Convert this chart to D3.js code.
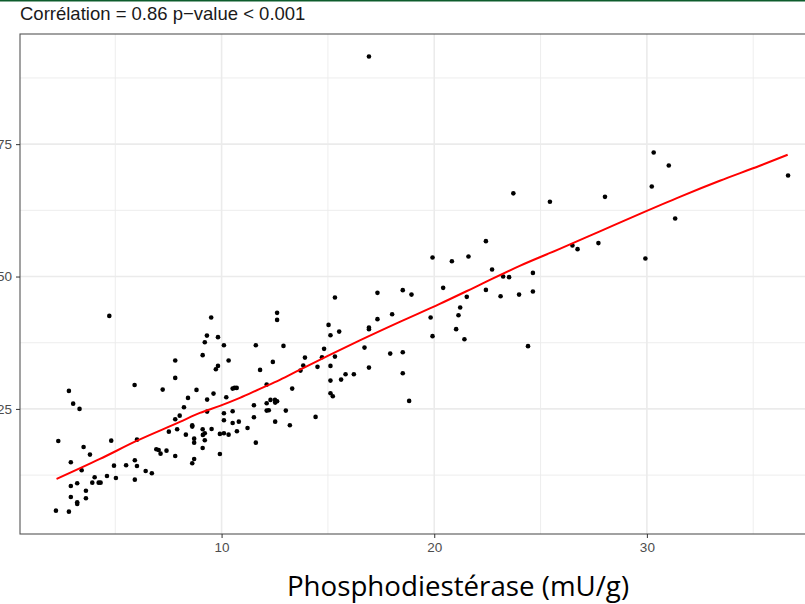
<!DOCTYPE html>
<html>
<head>
<meta charset="utf-8">
<script src="https://cdn.jsdelivr.net/npm/d3@7"></script>
<style>
  body { margin: 0; background: #fff; }
  svg { display: block; }
</style>
</head>
<body>
<div id="chart"></div>
<script>
// phosphodiesterase (mU/g) for each sample
var phospho = [
    4.72, 7.82, 7.82, 5.91, 7.23, 8.82, 2.82, 8.42, 3.02, 8.23, 3.32, 8.03, 7.82, 8.62,
    8.62, 7.91, 7.52, 8.32, 8.71, 8.71, 2.32, 4.81, 6.02, 3.51, 3.81, 6.93, 7.04, 7.13,
    7.41, 7.82, 2.91, 5.92, 6.02, 4.94, 5.51, 8.71, 8.62, 3.42, 6.43, 6.72, 4.03, 4.61,
    5.03, 5.92, 3.92, 4.22, 4.31, 3.21, 2.91, 3.62, 2.91, 3.62, 3.21, 3.21, 2.21, 2.82,
    15.33, 12.61, 12.61, 9.51, 15.03, 15.53, 15.12, 9.31, 9.83, 9.21, 10.11, 11.61, 12.91,
    14.82, 9.11, 13.92, 14.72, 15.33, 10.33, 12.41, 13.84, 9.83, 9.73, 15.12, 14.51, 11.81,
    13.71, 15.83, 16.22, 15.62, 15.12, 12.12, 10.52, 10.61, 10.71, 13.32, 15.12, 15.23,
    9.62, 10.22, 9.32, 12.30, 12.51, 12.61, 12.52, 12.12, 11.52, 9.32, 10.52, 10.11, 12.12,
    12.22, 13.02, 11.52, 14.42, 10.11, 10.52, 10.81, 12.52, 13.21, 9.11, 9.53, 11.22, 10.72,
    9.21, 9.92, 10.11, 10.33, 9.12, 9.21, 9.11, 11.61, 9.92,
    22.43, 19.92, 20.83, 21.61, 22.72, 23.24, 23.52, 20.42, 22.43, 23.12, 23.99, 17.33,
    18.52, 18.93, 21.53, 21.22, 21.14, 18.02, 17.33, 19.83, 16.93, 16.93, 21.03, 19.92,
    21.42, 16.72, 17.93, 18.52, 16.93, 18.52, 18.82, 23.72,
    30.32, 31.03, 30.23, 25.44, 28.03, 31.33, 26.50, 26.74, 27.72, 29.93, 24.64, 24.64,
    24.41, 36.64, 16.93
];

// the y-axis variable, same order
var activity = [
    42.57, 34.13, 30.86, 29.53, 28.65, 28.59, 28.40, 27.08, 26.00, 25.32, 25.00, 23.73, 23.05, 21.92,
    21.66, 21.16, 20.71, 20.14, 19.39, 18.63, 18.95, 19.01, 19.20, 17.82, 16.37, 17.39, 17.25, 16.55,
    17.12, 16.12, 14.93, 15.31, 14.23, 14.29, 14.36, 15.55, 14.74, 13.42, 13.29, 12.85, 12.10, 12.34,
    11.96, 11.64, 11.08, 11.08, 11.08, 10.96, 10.45, 9.56, 8.37, 8.13, 7.37, 7.05, 5.79, 5.60,
    46.03, 43.14, 41.81, 42.25, 40.87, 39.60, 38.92, 38.85, 38.55, 37.60, 37.03, 37.03, 36.90,
    36.34, 35.15, 34.69, 34.77, 34.88, 34.13, 33.88, 33.18, 33.12, 32.50, 33.12, 32.94, 32.37,
    32.24, 31.56, 31.56, 30.54, 30.35, 29.59, 28.84, 28.97, 28.97, 28.84, 27.97, 27.40,
    27.89, 27.21, 26.76, 26.70, 26.70, 26.45, 26.19, 26.08, 25.70, 24.49, 24.57, 24.19, 24.68,
    24.75, 24.68, 23.43, 23.49, 22.87, 22.35, 22.60, 22.60, 21.92, 21.16, 21.22, 21.41, 20.79,
    20.41, 20.28, 20.41, 20.14, 20.09, 19.09, 17.63, 18.63, 16.50,
    56.68, 53.59, 52.90, 53.77, 51.32, 50.00, 49.88, 47.86, 47.48, 46.29, 46.59, 46.92,
    47.43, 46.59, 46.16, 44.14, 42.70, 42.89, 41.95, 42.25, 40.36, 40.06, 40.06, 38.74,
    38.17, 36.58, 35.45, 35.71, 32.80, 31.74, 26.51, 65.71,
    73.42, 70.97, 67.00, 64.11, 65.05, 60.95, 55.85, 55.17, 56.31, 53.40, 50.69, 47.16,
    36.85, 69.08, 91.56
];

// red smoother, sampled along the drawn curve
var smoothX = [2.24, 4.28, 6.00, 8.04, 8.98, 9.92, 10.86, 11.80, 12.74, 13.67, 15.09, 16.50,
               18.38, 20.26, 22.14, 24.02, 25.90, 27.79, 29.67, 31.55, 33.43, 35.31, 36.62];
var smoothY = [11.77, 15.55, 18.95, 22.54, 24.24, 25.57, 27.08, 28.78, 30.48, 32.37, 35.20, 37.94,
               41.44, 44.84, 48.43, 52.02, 55.23, 58.54, 61.84, 65.05, 68.08, 70.91, 72.99];

var xTicks = [10, 20, 30];
var xMinor = [5, 15, 25, 35];
var yTicks = [25, 50, 75];
var yMinor = [12.5, 37.5, 62.5, 87.5];

var titleText = "Corrélation = 0.86 p\u2212value < 0.001";
var xLabel = "Phosphodiestérase (mU/g)";

var W = 805, H = 604;
// panel edges (the panel runs past the right edge of the screenshot)
var panel = { left: 20, top: 34, bottom: 534, right: 817 };

var svg = d3.select("#chart").append("svg")
    .attr("width", W)
    .attr("height", H)
    .style("font-family", "'Liberation Sans', Arial, sans-serif");

var x = d3.scaleLinear().domain([0.52, 38]).range([panel.left, panel.right]);
var y = d3.scaleLinear().domain([1.38, 95.8]).range([panel.bottom, panel.top]);

// green line on the top edge
svg.append("rect")
    .attr("x", 0).attr("y", 0)
    .attr("width", W).attr("height", 1.5)
    .attr("fill", "#0d5c2c");

// grid
var grid = svg.append("g");
grid.selectAll(".vmin").data(xMinor).enter().append("line")
    .attr("x1", d => x(d)).attr("x2", d => x(d))
    .attr("y1", panel.top).attr("y2", panel.bottom)
    .attr("stroke", "#ebebeb").attr("stroke-width", 0.9);
grid.selectAll(".hmin").data(yMinor).enter().append("line")
    .attr("x1", panel.left).attr("x2", panel.right)
    .attr("y1", d => y(d)).attr("y2", d => y(d))
    .attr("stroke", "#ebebeb").attr("stroke-width", 0.9);
grid.selectAll(".vmaj").data(xTicks).enter().append("line")
    .attr("x1", d => x(d)).attr("x2", d => x(d))
    .attr("y1", panel.top).attr("y2", panel.bottom)
    .attr("stroke", "#ebebeb").attr("stroke-width", 1.6);
grid.selectAll(".hmaj").data(yTicks).enter().append("line")
    .attr("x1", panel.left).attr("x2", panel.right)
    .attr("y1", d => y(d)).attr("y2", d => y(d))
    .attr("stroke", "#ebebeb").attr("stroke-width", 1.6);

// points
svg.append("g")
    .selectAll("circle")
    .data(phospho)
    .enter()
    .append("circle")
    .attr("cx", d => x(d))
    .attr("cy", (d, i) => y(activity[i]))
    .attr("r", 2.3)
    .attr("fill", "#000");

// smoother
var smooth = smoothX.map((d, i) => [d, smoothY[i]]);
svg.append("path")
    .datum(smooth)
    .attr("fill", "none")
    .attr("stroke", "#ff0000")
    .attr("stroke-width", 2)
    .attr("d", d3.line().x(d => x(d[0])).y(d => y(d[1])).curve(d3.curveMonotoneX));

// panel border
svg.append("rect")
    .attr("x", panel.left).attr("y", panel.top)
    .attr("width", panel.right - panel.left).attr("height", panel.bottom - panel.top)
    .attr("fill", "none")
    .attr("stroke", "#555")
    .attr("stroke-width", 1.1);

// axes
var xAxis = svg.append("g")
    .attr("transform", "translate(0," + panel.bottom + ")")
    .call(d3.axisBottom(x).tickValues(xTicks).tickSize(4).tickPadding(4));
var yAxis = svg.append("g")
    .attr("transform", "translate(" + panel.left + ",0)")
    .call(d3.axisLeft(y).tickValues(yTicks).tickSize(4).tickPadding(4));

[xAxis, yAxis].forEach(function (g) {
    g.select(".domain").remove();
    g.selectAll(".tick line").attr("stroke", "#333");
    g.selectAll(".tick text")
        .attr("fill", "#4d4d4d")
        .style("font-family", "'Liberation Sans', Arial, sans-serif")
        .style("font-size", "13.5px");
});

// title
svg.append("text")
    .attr("x", 20)
    .attr("y", 20)
    .attr("fill", "#1a1a1a")
    .style("font-size", "18.5px")
    .text(titleText);

// x axis label
svg.append("text")
    .attr("x", 458)
    .attr("y", 596)
    .attr("text-anchor", "middle")
    .attr("fill", "#000")
    .style("font-family", "'Open Sans', sans-serif")
    .style("font-size", "27.7px")
    .text(xLabel);
</script>
</body>
</html>
